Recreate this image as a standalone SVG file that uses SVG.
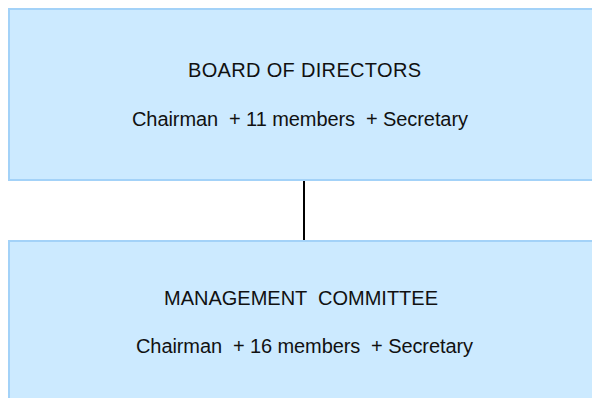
<svg xmlns="http://www.w3.org/2000/svg" width="592" height="398" viewBox="0 0 592 398">
<style>
.box{fill:#cceaff;stroke:#a3d2f8;stroke-width:2}
.t{font-family:"Liberation Sans",Arial,sans-serif;font-size:20px;fill:#111;white-space:pre}
.c{stroke:#000;stroke-width:2;fill:none}
</style>
<rect width="592" height="398" fill="#fff"/>
<g id="connectors">
<line class="c" x1="304" y1="180" x2="304" y2="241"/>
</g>
<g id="board">
<rect class="box" x="9" y="9" width="600" height="171"/>
<text class="t" x="188" y="77" textLength="233" lengthAdjust="spacing" xml:space="preserve">BOARD OF DIRECTORS</text>
<text class="t" x="132" y="126" textLength="336" lengthAdjust="spacing" xml:space="preserve">Chairman  + 11 members  + Secretary</text>
</g>
<g id="management">
<rect class="box" x="9" y="241" width="600" height="180"/>
<text class="t" x="164" y="305" textLength="274" lengthAdjust="spacing" xml:space="preserve">MANAGEMENT  COMMITTEE</text>
<text class="t" x="136" y="353" textLength="337" lengthAdjust="spacing" xml:space="preserve">Chairman  + 16 members  + Secretary</text>
</g>
</svg>
